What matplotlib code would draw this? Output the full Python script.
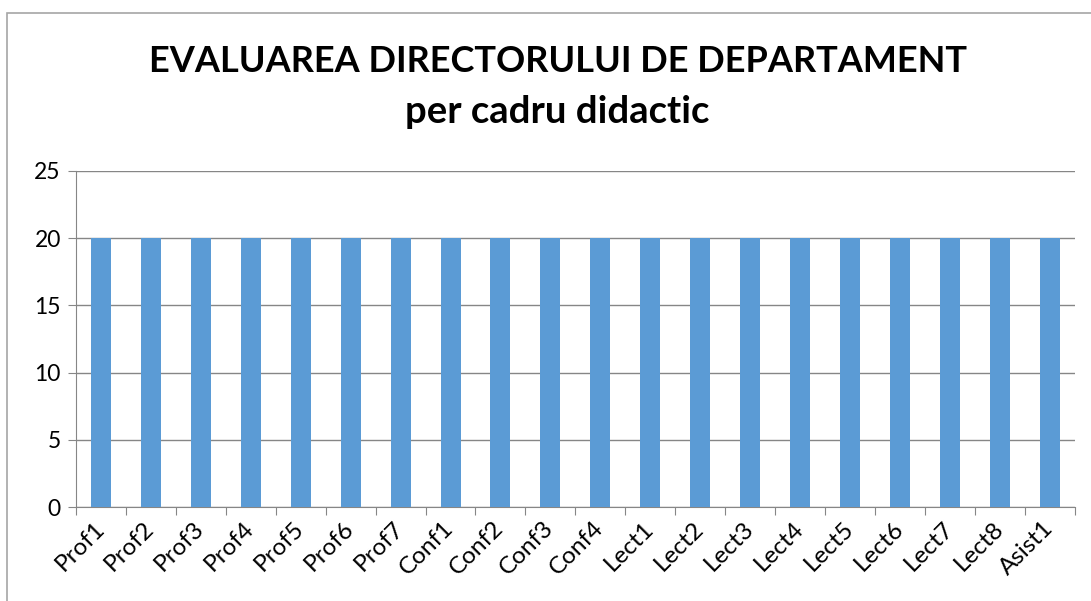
import numpy as np
import matplotlib.pyplot as plt
from matplotlib.patches import Rectangle
from matplotlib.transforms import ScaledTranslation

categories = ['Prof1', 'Prof2', 'Prof3', 'Prof4', 'Prof5', 'Prof6', 'Prof7',
              'Conf1', 'Conf2', 'Conf3', 'Conf4',
              'Lect1', 'Lect2', 'Lect3', 'Lect4', 'Lect5', 'Lect6', 'Lect7', 'Lect8',
              'Asist1']
values = [20, 20, 20, 20, 20, 20, 20, 20, 20, 20, 20, 20, 20, 20, 20, 20, 20, 20, 20, 20]
y_ticks = [0, 5, 10, 15, 20, 25]

plt.rcParams['font.family'] = ['Lato', 'DejaVu Sans']

fig = plt.figure(figsize=(10.91, 6.01), dpi=100)
ax = fig.add_axes([0.0697, 0.1564, 0.9153, 0.5591])

# chart frame
fig.patches.append(Rectangle((7 / 1091, -0.1), 1.2, 1 - 13 / 601 + 0.1,
                             transform=fig.transFigure, fill=False,
                             edgecolor='#a6a6a6', linewidth=1.2))

x = np.arange(len(categories))
ax.bar(x, values, width=0.4, color='#5b9bd5', zorder=3)

ax.set_xlim(-0.5, len(categories) - 0.5)
ax.set_ylim(0, 25)
ax.set_yticks(y_ticks)
ax.yaxis.grid(True, color='#868686', linewidth=1)
ax.set_axisbelow(True)

for s in ['top', 'right']:
    ax.spines[s].set_visible(False)
ax.spines['left'].set_color('#868686')
ax.spines['bottom'].set_color('#868686')

# ticks between categories, labels at category centres
ax.set_xticks(np.arange(len(categories) + 1) - 0.5)
ax.set_xticklabels([])
ax.set_xticks(x, minor=True)
ax.set_xticklabels(categories, minor=True, rotation=45, ha='right', va='center',
                   rotation_mode='anchor', fontsize=17.5)
shift = ScaledTranslation(8 / 100, 0, fig.dpi_scale_trans)
for lbl in ax.get_xticklabels(minor=True):
    lbl.set_transform(lbl.get_transform() + shift)
ax.tick_params(axis='x', which='major', length=6, color='#868686', direction='out')
ax.tick_params(axis='x', which='minor', length=0, pad=13)
ax.tick_params(axis='y', length=6, color='#868686', labelsize=16.5, pad=5)

fig.text(0.511, 0.897, 'EVALUAREA DIRECTORULUI DE DEPARTAMENT',
         ha='center', va='center', fontsize=26, fontweight='bold')
fig.text(0.511, 0.813, 'per cadru didactic',
         ha='center', va='center', fontsize=27.5, fontweight='bold')

fig.savefig('out.png', dpi=100)
